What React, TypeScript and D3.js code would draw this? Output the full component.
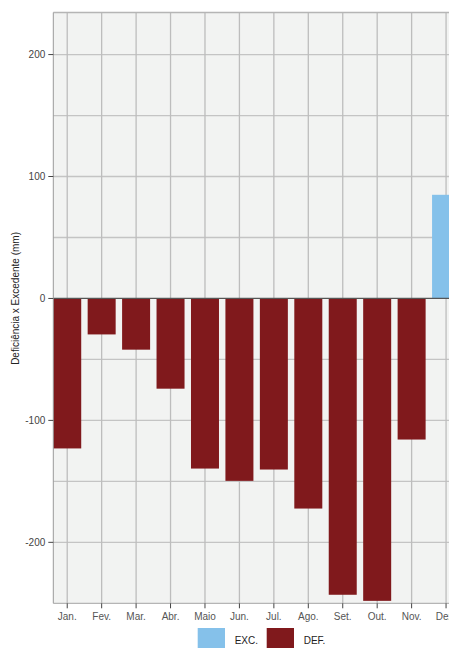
import React from "react";
import * as d3 from "d3";

const months = ["Jan.", "Fev.", "Mar.", "Abr.", "Maio", "Jun.", "Jul.", "Ago.", "Set.", "Out.", "Nov.", "Dez."];
const excedente = [0, 0, 0, 0, 0, 0, 0, 0, 0, 0, 0, 85];
const deficiencia = [-123, -29.5, -42, -74, -139.5, -149.6, -140.3, -172.3, -243, -248, -115.7, 0];
const yTicks = [-200, -100, 0, 100, 200];
const yGrid = [-200, -150, -100, -50, 50, 100, 150, 200];
const legendItems = ["EXC.", "DEF."];

const W = 449;
const H = 648;
const plotLeft = 53.3;
const plotRight = 461;
const plotTop = 12.5;
const plotBottom = 603.3;

const COL_EXC = "#85c1ea";
const COL_DEF = "#80191c";

export default function App() {
  const x = d3
    .scaleBand<string>()
    .domain(months)
    .range([50, 50 + 12 * 34.44])
    .paddingInner(0.187)
    .paddingOuter(0.0935);
  const y = d3.scaleLinear().domain([-250, 234.5]).range([plotBottom, plotTop]);
  const cx = (m: string) => (x(m) as number) + x.bandwidth() / 2;
  const font = "Liberation Sans, Arial, sans-serif";

  return (
    <div style={{ position: "fixed", left: 0, top: 0, width: W, height: H, overflow: "hidden", background: "#fff" }}>
      <svg width={W} height={H} style={{ display: "block" }} fontFamily={font}>
        <rect x={plotLeft} y={plotTop} width={plotRight - plotLeft} height={plotBottom - plotTop} fill="#f2f3f2" />
        {yGrid.map((t) => (
          <line key={"hg" + t} x1={plotLeft} x2={plotRight} y1={y(t)} y2={y(t)} stroke="#c4c4c4" strokeWidth={1.3} />
        ))}
        {months.map((m) => (
          <line key={"vg" + m} x1={cx(m)} x2={cx(m)} y1={plotTop} y2={plotBottom} stroke="#bdbdbd" strokeWidth={1.3} />
        ))}
        {months.map((m, i) =>
          excedente[i] > 0 ? (
            <rect key={"e" + m} x={x(m)} width={x.bandwidth()} y={y(excedente[i])} height={y(0) - y(excedente[i])} fill={COL_EXC} />
          ) : null
        )}
        {months.map((m, i) =>
          deficiencia[i] < 0 ? (
            <rect key={"d" + m} x={x(m)} width={x.bandwidth()} y={y(0)} height={y(deficiencia[i]) - y(0)} fill={COL_DEF} />
          ) : null
        )}
        <line x1={plotLeft} x2={plotRight} y1={y(0)} y2={y(0)} stroke="#555" strokeWidth={1.3} />
        <line x1={plotLeft} x2={plotRight} y1={plotTop} y2={plotTop} stroke="#b5b5b5" strokeWidth={1.3} />
        <line x1={plotLeft} x2={plotRight} y1={plotBottom} y2={plotBottom} stroke="#b5b5b5" strokeWidth={1.3} />
        <line x1={plotLeft} x2={plotLeft} y1={plotTop} y2={plotBottom} stroke="#9a9a9a" strokeWidth={1} />
        {yTicks.map((t) => (
          <g key={"yt" + t}>
            <line x1={plotLeft - 5} x2={plotLeft} y1={y(t)} y2={y(t)} stroke="#444" strokeWidth={1} />
            <text x={plotLeft - 8} y={y(t)} dy="0.35em" textAnchor="end" fontSize={10} fill="#444">
              {t}
            </text>
          </g>
        ))}
        {months.map((m) => (
          <g key={"xt" + m}>
            <line x1={cx(m)} x2={cx(m)} y1={plotBottom} y2={plotBottom + 5} stroke="#444" strokeWidth={1} />
            <text x={cx(m)} y={plotBottom + 17} textAnchor="middle" fontSize={10} fill="#555">
              {m}
            </text>
          </g>
        ))}
        <text
          transform={`translate(19, ${y(0)}) rotate(-90)`}
          textAnchor="middle"
          fontSize={10}
          fill="#222"
        >
          Deficiência x Excedente (mm)
        </text>
        {legendItems.map((l, i) => (
          <g key={"lg" + l} transform={`translate(${197.7 + i * 69}, 628)`}>
            <rect x={0} y={0} width={27.3} height={22} fill={i === 0 ? COL_EXC : COL_DEF} />
            <text x={37} y={16} fontSize={10} fill="#222">
              {l}
            </text>
          </g>
        ))}
      </svg>
    </div>
  );
}
